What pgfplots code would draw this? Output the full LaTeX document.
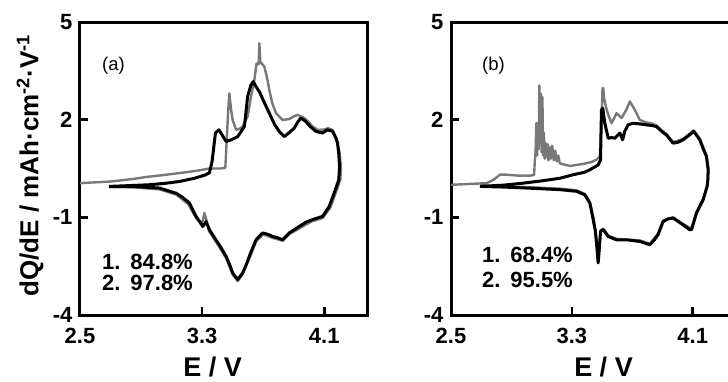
\documentclass[border=0pt]{standalone}
\usepackage{fontspec}
\setmainfont{Liberation Sans}
\usepackage{pgfplots}
\pgfplotsset{compat=1.18}
\definecolor{cgray}{RGB}{120,120,120}
\pgfplotsset{
 panel/.style={
  scale only axis, width=287pt, height=293pt,
  xmin=2.5, xmax=4.38, ymin=-4, ymax=5,
  xtick={2.5,3.3,4.1}, ytick={-4,-1,2,5},
  xticklabels={2.5,3.3,4.1}, yticklabels={-4,-1,2,5},
  tick align=inside, xtick pos=bottom, ytick pos=left,
  major tick length=8pt,
  axis line style={line width=3pt, line cap=rect},
  every tick/.style={line width=2.5pt, black},
  ticklabel style={font=\fontsize{22}{24}\selectfont\bfseries},
  xticklabel style={yshift=-10pt},
  yticklabel style={xshift=-4pt},
  xlabel={E / V},
  xlabel style={font=\fontsize{27}{30}\selectfont\bfseries, anchor=center},
  gcurve/.style={draw=cgray, line width=2.4pt, line join=round, mark=none},
  kcurve/.style={draw=black, line width=3pt, line join=round, mark=none},
 }
}
\begin{document}
\begin{tikzpicture}[x=1pt,y=1pt]
% ---------------- panel (a)
\begin{axis}[panel, at={(80pt,66pt)}, anchor=south west,
  xlabel style={at={(axis description cs:0.462,-0.177)}},
  ylabel={dQ/dE / mAh·cm\textsuperscript{-2}·V\textsuperscript{-1}},
  ylabel style={font=\fontsize{26}{28}\selectfont\bfseries, at={(axis description cs:-0.174,0.51)}, anchor=center}]
\addplot[gcurve] coordinates {
(2.5,0.05) (2.70,0.1) (2.85,0.18) (2.934,0.24) (3.05,0.3) (3.151,0.36) (3.25,0.42) (3.348,0.5) (3.42,0.5) (3.452,0.52)
(3.461,1.38) (3.47,2.2) (3.478,2.81) (3.49,2.3) (3.5,1.99) (3.522,1.69) (3.545,1.72) (3.565,1.79) (3.598,2.1) (3.62,2.7)
(3.642,3.22) (3.657,3.73) (3.670,3.7) (3.675,4.35) (3.681,3.78) (3.707,3.63) (3.725,3.3) (3.74,2.91) (3.76,2.5) (3.784,2.2)
(3.827,1.99) (3.871,2.02) (3.9,2.1) (3.925,2.15) (3.969,2.05) (4.0,1.92) (4.023,1.79) (4.06,1.68) (4.10,1.70) (4.125,1.74)
(4.155,1.68) (4.18,1.4) (4.2,1.0) (4.21,0.55) (4.205,0.15) (4.175,-0.25) (4.14,-0.7) (4.09,-1.02) (4.02,-1.12) (3.94,-1.33)
(3.87,-1.52) (3.83,-1.72) (3.76,-1.63) (3.70,-1.52) (3.655,-1.73) (3.61,-2.25) (3.565,-2.75) (3.533,-2.96) (3.5,-2.76)
(3.457,-2.25) (3.39,-1.74) (3.345,-1.42) (3.326,-1.05) (3.315,-0.87) (3.305,-1.1) (3.295,-1.2) (3.26,-1.02) (3.21,-0.6)
(3.13,-0.3) (3.02,-0.14) (2.85,-0.08) (2.69,-0.07)
};
\addplot[kcurve] coordinates {
(2.69,-0.05) (2.80,-0.03) (2.95,0.0) (3.05,0.04) (3.15,0.10) (3.25,0.2) (3.32,0.3) (3.348,0.37) (3.365,0.71) (3.375,1.1)
(3.387,1.59) (3.41,1.69) (3.435,1.5) (3.457,1.33) (3.49,1.38) (3.533,1.48) (3.577,1.79) (3.598,2.71) (3.62,3.07) (3.635,3.17)
(3.655,3.0) (3.675,2.86) (3.71,2.5) (3.74,2.2) (3.775,1.85) (3.805,1.64) (3.838,1.48) (3.87,1.6) (3.903,1.74) (3.93,1.95)
(3.947,2.05) (3.98,1.94) (4.01,1.78) (4.045,1.64) (4.089,1.59) (4.121,1.69) (4.154,1.64) (4.175,1.45) (4.187,1.28) (4.195,0.95)
(4.2,0.55) (4.195,0.15) (4.165,-0.25) (4.132,-0.67) (4.089,-0.97) (4.023,-1.07) (3.98,-1.15) (3.936,-1.28) (3.87,-1.48)
(3.827,-1.69) (3.79,-1.62) (3.762,-1.59) (3.73,-1.52) (3.696,-1.48) (3.653,-1.69) (3.63,-1.95) (3.609,-2.2) (3.585,-2.5)
(3.565,-2.71) (3.533,-2.91) (3.5,-2.71) (3.48,-2.45) (3.457,-2.2) (3.42,-1.9) (3.39,-1.69) (3.348,-1.38) (3.326,-1.13)
(3.304,-1.28) (3.28,-1.1) (3.26,-0.97) (3.217,-0.56) (3.17,-0.38) (3.13,-0.26) (3.02,-0.1) (2.846,-0.05) (2.694,-0.05)
};
\end{axis}
% ---------------- panel (b)
\begin{axis}[panel, at={(451pt,66pt)}, anchor=south west, width=284pt,
  xlabel style={at={(axis description cs:0.537,-0.178)}}]
\addplot[gcurve] coordinates {
(2.5,0.0) (2.6,0.02) (2.736,0.05) (2.78,0.15) (2.824,0.31) (2.868,0.31) (2.95,0.28) (3.022,0.28) (3.05,0.30)
(3.055,0.75) (3.06,1.0) (3.065,1.9) (3.07,0.9) (3.075,1.8) (3.08,1.1) (3.085,3.05) (3.09,1.3) (3.095,2.8) (3.10,1.0)
(3.105,2.7) (3.11,0.9) (3.115,1.6) (3.12,0.8) (3.125,1.3) (3.13,0.85) (3.14,1.25) (3.145,0.75) (3.155,1.15) (3.16,0.8)
(3.17,1.2) (3.18,0.75) (3.19,1.05) (3.2,0.72) (3.21,0.9) (3.22,0.66) (3.25,0.62)
(3.287,0.58) (3.375,0.64) (3.43,0.7) (3.463,0.77) (3.485,0.87) (3.495,1.8) (3.503,2.97) (3.508,2.97) (3.512,2.7) (3.525,2.4)
(3.541,2.15) (3.563,1.89) (3.596,2.2) (3.629,2.05) (3.66,2.3) (3.684,2.56) (3.717,2.3) (3.75,1.99) (3.79,1.92) (3.83,1.88)
(3.86,1.82) (3.9,1.65) (3.926,1.56) (3.97,1.31) (4.036,1.41) (4.107,1.67) (4.147,1.41) (4.191,0.9) (4.205,0.46) (4.2,0.0)
(4.169,-0.43) (4.125,-0.84) (4.092,-1.35) (4.036,-1.2) (3.97,-1.0) (3.904,-1.1) (3.871,-1.5) (3.816,-1.81) (3.75,-1.71)
(3.596,-1.66) (3.541,-1.56) (3.508,-1.35) (3.49,-1.4) (3.478,-2.3) (3.468,-1.85) (3.445,-1.05) (3.419,-0.53) (3.386,-0.28)
(3.331,-0.17) (3.221,-0.12) (3.0,-0.07) (2.692,-0.03)
};
\addplot[kcurve] coordinates {
(2.692,-0.05) (2.85,-0.01) (2.978,0.05) (3.1,0.12) (3.221,0.2) (3.309,0.31) (3.38,0.38) (3.419,0.46) (3.474,0.61) (3.49,0.77)
(3.493,1.6) (3.496,2.3) (3.505,2.35) (3.518,1.89) (3.541,1.43) (3.563,1.45) (3.585,1.43) (3.618,1.59) (3.636,1.38) (3.65,1.64)
(3.672,1.84) (3.705,1.89) (3.75,1.87) (3.794,1.84) (3.83,1.82) (3.86,1.79) (3.9,1.62) (3.926,1.53) (3.97,1.28) (4.0,1.30)
(4.036,1.38) (4.07,1.5) (4.107,1.64) (4.147,1.38) (4.17,1.1) (4.191,0.87) (4.202,0.46) (4.2,0.15) (4.195,-0.05) (4.169,-0.46)
(4.125,-0.87) (4.092,-1.38) (4.08,-1.38) (4.036,-1.23) (3.97,-1.02) (3.935,-1.05) (3.904,-1.13) (3.871,-1.53) (3.845,-1.7)
(3.816,-1.84) (3.75,-1.74) (3.662,-1.69) (3.596,-1.69) (3.541,-1.59) (3.508,-1.38) (3.49,-1.43) (3.474,-2.4) (3.465,-1.89)
(3.455,-1.4) (3.441,-1.07) (3.419,-0.56) (3.386,-0.31) (3.331,-0.2) (3.221,-0.15) (3.0,-0.1) (2.85,-0.07) (2.692,-0.05)
};
\end{axis}
% ---------------- annotations
\node[anchor=base west, inner sep=0pt, font=\fontsize{18.5}{20}\selectfont] at (102pt,310.5pt) {(a)};
\node[anchor=base west, inner sep=0pt, font=\fontsize{18.5}{20}\selectfont] at (482pt,310.5pt) {(b)};
\node[anchor=base west, inner sep=0pt, font=\fontsize{22}{24}\selectfont\bfseries] at (102pt,112pt) {1.\hspace{0.45em}84.8\%};
\node[anchor=base west, inner sep=0pt, font=\fontsize{22}{24}\selectfont\bfseries] at (102pt,91pt) {2.\hspace{0.45em}97.8\%};
\node[anchor=base west, inner sep=0pt, font=\fontsize{22}{24}\selectfont\bfseries] at (482pt,119pt) {1.\hspace{0.45em}68.4\%};
\node[anchor=base west, inner sep=0pt, font=\fontsize{22}{24}\selectfont\bfseries] at (482pt,94pt) {2.\hspace{0.45em}95.5\%};
\pgfresetboundingbox
\path[use as bounding box] (0pt,0pt) rectangle (728pt,381pt);
\end{tikzpicture}
\end{document}
